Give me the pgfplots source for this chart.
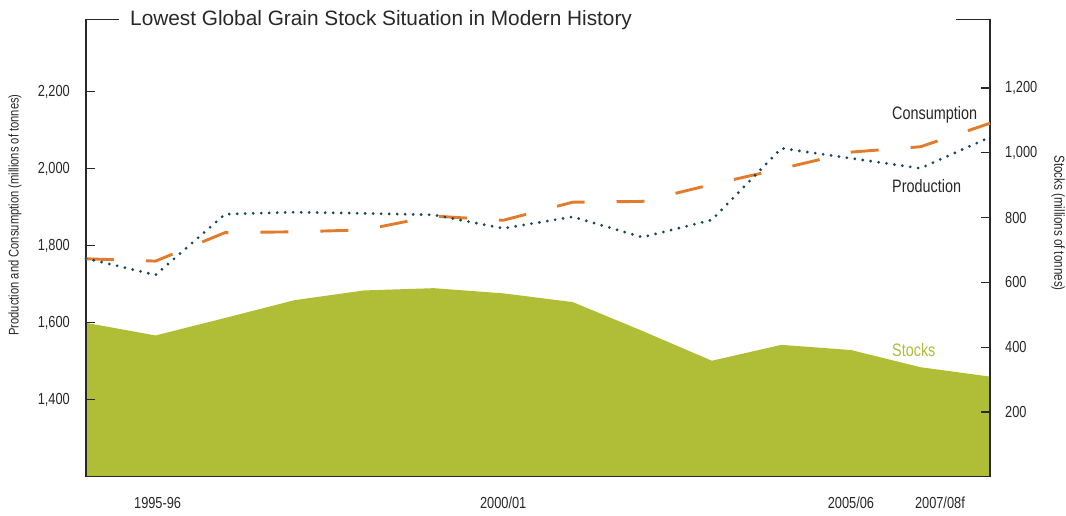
\documentclass[border=0pt]{standalone}
\usepackage{pgfplots}
\pgfplotsset{compat=1.18}
\usepackage{fontspec}
\setmainfont{Liberation Sans}
\newfontfamily\condfont[FakeStretch=0.8]{Liberation Sans}
\definecolor{stockgreen}{RGB}{176,189,54}
\definecolor{consorange}{RGB}{226,124,44}
\definecolor{prodteal}{RGB}{22,72,94}
\definecolor{axisgray}{RGB}{40,40,40}

\begin{document}
\begin{tikzpicture}[x=1pt,y=1pt]
\pgfplotsset{
  base/.style={
    scale only axis, width=904pt, height=457.4pt,
    at={(86pt,38.3pt)}, anchor=south west,
    xmin=0, xmax=13,
    axis line style={axisgray, line width=1.2pt},
    tick style={axisgray, line width=1.2pt},
    major tick length=9pt,
    tick align=inside,
    ticklabel style={font=\condfont\fontsize{16}{16}\selectfont, text=axisgray},
    /pgf/number format/assume math mode=true,
    /pgf/number format/1000 sep={,},
    clip=false,
  }
}
% Stocks (right axis)
\begin{axis}[base,
  ymin=0, ymax=1412,
  axis on top,
  axis y line*=right, axis x line*=bottom,
  ytick={200,400,...,1200},
  yticklabel style={inner xsep=15pt},
  xtick={1.03,6,11,12.28},
  xticklabels={1995-96,2000/01,2005/06,2007/08f},
  xtick style={draw=none},
  xticklabel style={inner ysep=0pt, yshift=-20pt},
]
\addplot[fill=stockgreen, draw=none] coordinates {
(0,475) (1,436) (2,490) (3,545) (4,575) (5,582) (6,566)
(7,539) (8,450) (9,358) (10,407) (11,391) (12,338) (13,309)
} \closedcycle;
\end{axis}
% Production and consumption (left axis)
\begin{axis}[base,
  ymin=1200, ymax=2388,
  axis y line*=left, axis x line=none,
  ytick={1400,1600,...,2200},
  yticklabel style={inner xsep=16pt},
]
\addplot[consorange, line width=2.9pt, dash pattern=on 28pt off 32pt] coordinates {
(0,1766) (1,1760) (2,1834) (3,1836) (4,1841) (5,1877) (6,1866)
(7,1913) (8,1915) (9,1959) (10,2000) (11,2043) (12,2057) (13,2118)
};
\addplot[prodteal, line width=3.1pt, line cap=round, dash pattern=on 0pt off 8pt] coordinates {
(0,1767) (1,1724) (2,1882) (3,1887) (4,1884) (5,1880) (6,1845)
(7,1875) (8,1822) (9,1867) (10,2053) (11,2027) (12,2001) (13,2082)
};
\draw[axisgray, line width=1.2pt] (rel axis cs:0,1) -- (rel axis cs:0.0365,1);
\draw[axisgray, line width=1.2pt] (rel axis cs:0.962,1) -- (rel axis cs:1,1);
\end{axis}
% Titles and labels
\node[anchor=base west, font=\fontsize{20.8}{21}\selectfont, text=axisgray, inner sep=0pt] at (130pt,489pt) {Lowest Global Grain Stock Situation in Modern History};
\node[rotate=90, font=\condfont\fontsize{14}{14}\selectfont, text=axisgray, inner sep=0pt] at (15pt,300pt) {Production and Consumption (millions of tonnes)};
\node[rotate=-90, font=\condfont\fontsize{14.5}{14.5}\selectfont, text=axisgray, inner sep=0pt] at (1058pt,292pt) {Stocks (millions of tonnes)};
\node[anchor=base west, font=\condfont\fontsize{18}{18}\selectfont, text=axisgray, inner sep=0pt] at (892pt,395.7pt) {Consumption};
\node[anchor=base west, font=\condfont\fontsize{18}{18}\selectfont, text=axisgray, inner sep=0pt] at (892pt,322.3pt) {Production};
\node[anchor=base west, font=\condfont\fontsize{18}{18}\selectfont, text=stockgreen, inner sep=0pt] at (892pt,158.3pt) {Stocks};
\pgfresetboundingbox
\path (0,0) rectangle (1066pt,515pt);
\end{tikzpicture}
\end{document}
